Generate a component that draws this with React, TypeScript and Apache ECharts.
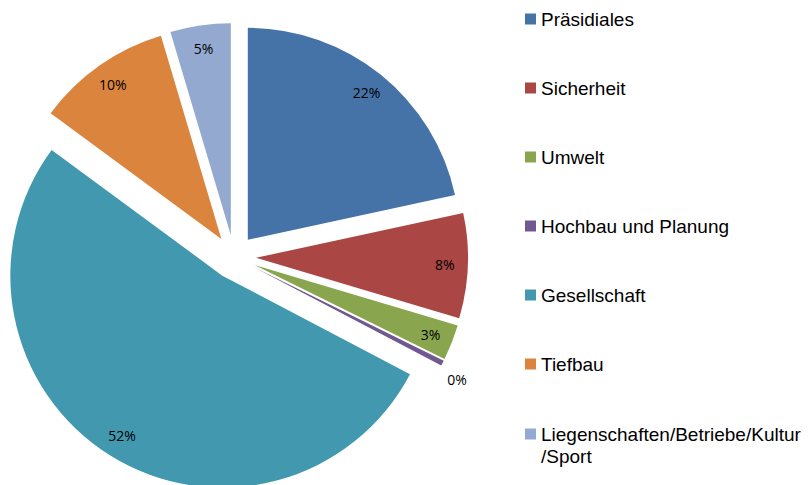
import React, { useEffect, useRef } from "react";
import * as echarts from "echarts";

const categories = [
  "Präsidiales",
  "Sicherheit",
  "Umwelt",
  "Hochbau und Planung",
  "Gesellschaft",
  "Tiefbau",
  "Liegenschaften/Betriebe/Kultur/Sport",
];
const values = [21.6, 8.0, 2.7, 0.4, 52.4, 10.3, 4.6];
const colors = ["#4572A7", "#AA4643", "#89A54E", "#71588F", "#4198AF", "#DB843D", "#93A9CF"];

export default function App() {
  const ref = useRef<HTMLDivElement>(null);
  useEffect(() => {
    if (!ref.current) return;
    const chart = echarts.init(ref.current, null, { renderer: "svg" });
    const center = [234, 257];
    const mainData = categories.map((name, i) => ({
      name,
      value: values[i],
      selected: true,
      itemStyle: { color: colors[i] },
    }));
    const labelData = categories.map((name, i) => ({
      name,
      value: values[i],
      selected: true,
    }));
    const legendText = {
      fontFamily: "Liberation Sans, Arial, sans-serif",
      fontSize: 19,
      lineHeight: 22,
      color: "#000",
    };
    chart.setOption({
      animation: false,
      color: colors,
      legend: [
        {
          orient: "vertical",
          left: 520,
          top: 3,
          itemWidth: 11,
          itemHeight: 11,
          itemGap: 47,
          icon: "rect",
          data: categories.slice(0, 6),
          textStyle: legendText,
        },
        {
          orient: "vertical",
          left: 520,
          top: 396,
          itemWidth: 11,
          itemHeight: 11,
          icon: "rect",
          data: categories.slice(6),
          formatter: (n: string) => {
            const i = n.lastIndexOf("/");
            return "{t| }\n{t|" + n.slice(0, i) + "}\n{t|" + n.slice(i) + "}";
          },
          textStyle: { ...legendText, rich: { t: { ...legendText } } },
        },
      ],
      series: [
        {
          type: "pie",
          center,
          radius: [0, 212],
          startAngle: 90,
          clockwise: true,
          selectedMode: "multiple",
          selectedOffset: 22,
          label: { show: false },
          labelLine: { show: false },
          emphasis: { disabled: true },
          data: mainData,
        },
        {
          type: "pie",
          center,
          radius: [0, 372],
          startAngle: 90,
          clockwise: true,
          selectedMode: "multiple",
          selectedOffset: 22,
          silent: true,
          itemStyle: { color: "rgba(0,0,0,0)" },
          emphasis: { disabled: true },
          labelLine: { show: false },
          label: {
            show: true,
            position: "inside",
            fontFamily: "Open Sans, sans-serif",
            fontSize: 14,
            color: "#000",
            formatter: (p: any) => Math.round(p.percent) + "%",
          },
          labelLayout: (p: any) => (p.dataIndex === 3 ? { dx: 35, dy: 27 } : {}),
          data: labelData,
        },
      ],
    });
    return () => chart.dispose();
  }, []);
  return (
    <div
      ref={ref}
      style={{ position: "fixed", left: 0, top: 0, width: 812, height: 485, background: "#fff" }}
    />
  );
}
